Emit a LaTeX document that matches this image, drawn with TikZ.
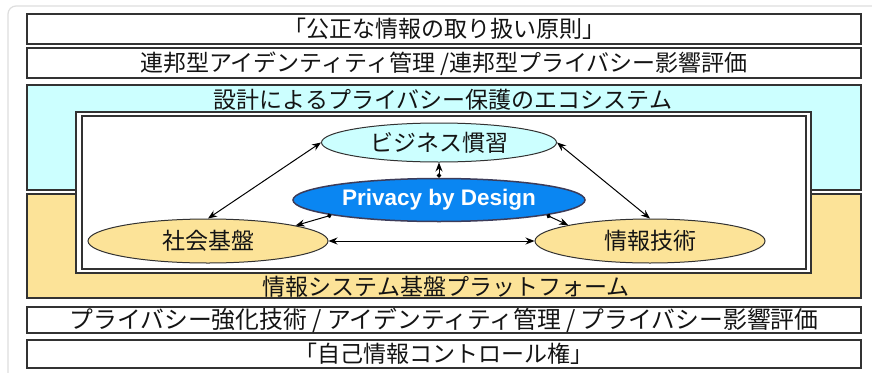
\documentclass[tikz,border=0pt]{standalone}
\usepackage{fontspec}
\setmainfont{Noto Sans CJK JP}
\newfontfamily\latinf{Liberation Sans}
\usetikzlibrary{shapes.geometric,arrows.meta}
\definecolor{linec}{RGB}{50,50,50}
\definecolor{txt}{RGB}{20,20,20}
\definecolor{cyanf}{RGB}{204,255,255}
\definecolor{yellowf}{RGB}{252,227,152}
\definecolor{bluef}{RGB}{10,134,242}
\definecolor{framec}{RGB}{222,222,222}
\begin{document}
\begin{tikzpicture}[x=1pt,y=-1pt,
  lbl/.style={font=\fontsize{23}{23}\selectfont, text=txt, inner sep=0pt, text height=19pt, text depth=1.6pt},
  bar/.style={lbl, draw=linec, line width=1.3pt, fill=white, minimum width=834pt},
  ell/.style={lbl, ellipse, draw=linec, line width=1pt},
  conn/.style={line width=1pt, {Stealth[length=9pt,width=7pt]}-{Stealth[length=9pt,width=7pt]}},
  dotarrow/.style={line width=1pt, {Circle[length=4.5pt]}-{Stealth[length=9pt,width=7pt]}}
  ]
\useasboundingbox (0,0) rectangle (872,372);
\fill[white] (0,0) rectangle (872,372);
\draw[framec, line width=1.2pt, rounded corners=8pt] (8,390) -- (8,6) -- (890,6);

% top bars
\node[bar, minimum height=30pt] (b1) at (444,29) {「公正な情報の取り扱い原則」};
\node[bar, minimum height=30pt] (b2) at (444,63) {連邦型アイデンティティ管理 /連邦型プライバシー影響評価};

% cyan ecosystem band
\draw[fill=cyanf, draw=linec, line width=1.2pt]
  (27,85) -- (861,85) -- (861,190) -- (811,190) -- (811,112) -- (76,112) -- (76,190) -- (27,190) -- cycle;
% yellow platform band
\draw[fill=yellowf, draw=linec, line width=1.2pt]
  (27,194) -- (76,194) -- (76,273) -- (811,273) -- (811,194) -- (861,194) -- (861,298) -- (27,298) -- cycle;
% inner white frame (double line)
\draw[fill=white, draw=linec, line width=1.2pt] (76,112) rectangle (811,273);
\draw[draw=linec, line width=1.2pt] (82,116) rectangle (806,269);

\node[lbl] (eco) at (443,100) {設計によるプライバシー保護のエコシステム};
\node[lbl] (plat) at (446,287) {情報システム基盤プラットフォーム};

% bottom bars
\node[bar, minimum height=26pt, font=\fontsize{23.8}{23.8}\selectfont] (b3) at (444,320) {プライバシー強化技術 / アイデンティティ管理 / プライバシー影響評価};
\node[bar, minimum height=28pt] (b4) at (444,354) {「自己情報コントロール権」};

% ellipses
\node[ell, fill=cyanf, minimum width=235pt, minimum height=39pt] (biz) at (439,142.5) {ビジネス慣習};
\node[ell, fill=yellowf, minimum width=240pt, minimum height=44pt] (shakai) at (208,241) {社会基盤};
\node[ell, fill=yellowf, minimum width=230pt, minimum height=44pt] (joho) at (650,241) {情報技術};
\node[ellipse, fill=bluef, draw={rgb,255:red,60;green,60;blue,90}, line width=1.5pt, inner sep=0pt,
      minimum width=292pt, minimum height=43pt, text=white,
      font=\latinf\bfseries\fontsize{22.5}{22.5}\selectfont] (pbd) at (439,200) {Privacy by Design};

% connectors
\draw[conn] (shakai.north) -- (biz.west);
\draw[conn] (biz.east) -- (joho.north);
\draw[conn] (shakai.east) -- (joho.west);
\draw[dotarrow] (pbd.north) -- (biz.south);
\draw[dotarrow] (pbd.188) -- (shakai.10);
\draw[dotarrow] (pbd.352) -- (joho.169);
\end{tikzpicture}
\end{document}
